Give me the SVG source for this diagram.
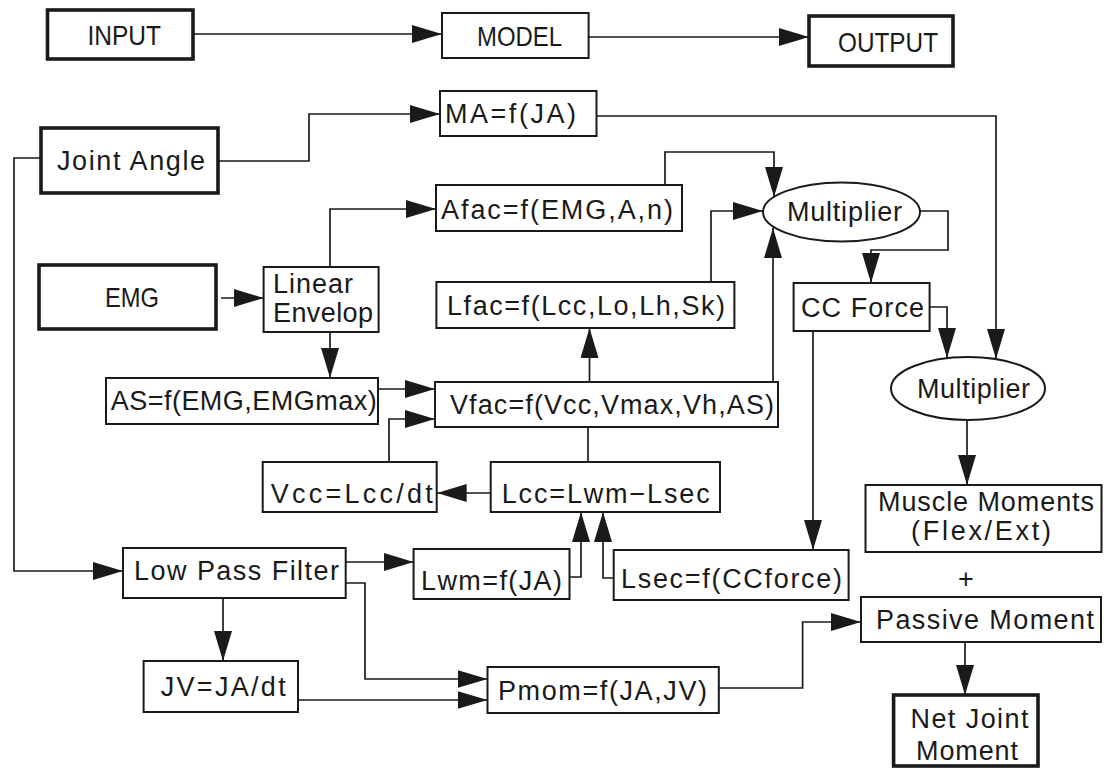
<svg xmlns="http://www.w3.org/2000/svg" width="1104" height="769" viewBox="0 0 1104 769">
<style>
.b{fill:#fff;stroke:#1a1a1a;stroke-width:2}
.k{fill:#fff;stroke:#1a1a1a;stroke-width:3.6}
.c{fill:none;stroke:#1a1a1a;stroke-width:1.7}
.a{marker-end:url(#ah)}
text{font-family:"Liberation Sans",Arial,sans-serif;font-size:27px;fill:#1a1a1a;text-anchor:start}
.u{font-size:28px}
</style>
<defs>
<marker id="ah" viewBox="0 0 30 18" refX="30" refY="9" markerWidth="30" markerHeight="18" markerUnits="userSpaceOnUse" orient="auto">
<path d="M0,0 L30,9 L0,18 z" fill="#1a1a1a"/>
</marker>
</defs>
<rect width="1104" height="769" fill="#fff"/>
<g id="connectors">
<path class="c a" d="M193,34 H442"/>
<path class="c a" d="M588.6,37 H809"/>
<path class="c a" d="M218,161 H309 V114 H440"/>
<path class="c a" d="M41,158 H14 V571 H123"/>
<path class="c a" d="M596.5,116 H996 V359"/>
<path class="c a" d="M929.6,307 H947 V358"/>
<path class="c a" d="M920,211 H948 V250 H871 V283"/>
<path class="c a" d="M665,185 V152 H774 V197"/>
<path class="c a" d="M711,282 V211 H763"/>
<path class="c a" d="M773,382 V228"/>
<path class="c a" d="M221,298 H263.6"/>
<path class="c a" d="M330,267 V209 H436"/>
<path class="c a" d="M330,332 V378"/>
<path class="c a" d="M378,389 H435"/>
<path class="c a" d="M389,462 V419 H435"/>
<path class="c a" d="M589.5,382 V328"/>
<path class="c" d="M588,427 V462"/>
<path class="c a" d="M490.7,493 H436.7"/>
<path class="c a" d="M569.5,577 H581 V512"/>
<path class="c a" d="M613.7,578 H603 V512"/>
<path class="c a" d="M813,331 V550"/>
<path class="c a" d="M967,420 V485"/>
<path class="c a" d="M965,642 V695"/>
<path class="c a" d="M718.8,688 H802.6 V622 H861"/>
<path class="c a" d="M345.7,562 H413.6"/>
<path class="c a" d="M345.7,583 H365 V679 H487.5"/>
<path class="c a" d="M223,598 V661"/>
<path class="c a" d="M298,700 H487.5"/>
</g>
<g id="input"><rect class="k" x="47.5" y="10" width="145.5" height="49"/><text class="u" x="87.5" y="45" textLength="73.5" lengthAdjust="spacingAndGlyphs">INPUT</text></g>
<g id="model"><rect class="b" x="442" y="13" width="146.6" height="45"/><text class="u" x="477" y="46" textLength="85" lengthAdjust="spacingAndGlyphs">MODEL</text></g>
<g id="output"><rect class="k" x="809" y="16" width="144" height="50"/><text class="u" x="838" y="52" textLength="100" lengthAdjust="spacingAndGlyphs">OUTPUT</text></g>
<g id="ma"><rect class="b" x="440" y="91" width="156.5" height="45"/><text x="445" y="123" textLength="131">MA=f(JA)</text></g>
<g id="joint-angle"><rect class="k" x="41" y="128" width="177" height="65"/><text x="57" y="170" textLength="148">Joint Angle</text></g>
<g id="afac"><rect class="b" x="436" y="185" width="246" height="46"/><text x="441" y="219" textLength="232">Afac=f(EMG,A,n)</text></g>
<g id="multiplier1"><ellipse class="b" cx="841.5" cy="212" rx="78.5" ry="29.5"/><text x="787" y="221" textLength="115">Multiplier</text></g>
<g id="emg"><rect class="k" x="39" y="265" width="177" height="64"/><text class="u" x="105" y="307" textLength="54" lengthAdjust="spacingAndGlyphs">EMG</text></g>
<g id="linear-envelop"><rect class="b" x="263.6" y="267" width="115" height="65"/><text x="273" y="293" textLength="80">Linear</text><text x="273" y="322" textLength="100">Envelop</text></g>
<g id="lfac"><rect class="b" x="436.4" y="282" width="298" height="46"/><text x="447" y="315" textLength="278">Lfac=f(Lcc,Lo,Lh,Sk)</text></g>
<g id="cc-force"><rect class="b" x="793.6" y="283" width="136" height="48"/><text x="801" y="317" textLength="123">CC Force</text></g>
<g id="multiplier2"><ellipse class="b" cx="968" cy="388.5" rx="77" ry="31.5"/><text x="917" y="398" textLength="113">Multiplier</text></g>
<g id="as"><rect class="b" x="106" y="378" width="272" height="46"/><text x="110.7" y="410" textLength="266">AS=f(EMG,EMGmax)</text></g>
<g id="vfac"><rect class="b" x="435" y="382" width="343" height="45"/><text x="450" y="414" textLength="324">Vfac=f(Vcc,Vmax,Vh,AS)</text></g>
<g id="vcc"><rect class="b" x="262.7" y="462" width="174" height="50"/><text x="270.7" y="503" textLength="162">Vcc=Lcc/dt</text></g>
<g id="lcc"><rect class="b" x="490.7" y="462" width="229.3" height="50"/><text x="501.7" y="503" textLength="208">Lcc=Lwm−Lsec</text></g>
<g id="muscle-moments"><rect class="b" x="865.5" y="485" width="236" height="67"/><text x="878" y="511" textLength="216">Muscle Moments</text><text x="911" y="540" textLength="140">(Flex/Ext)</text></g>
<g id="low-pass-filter"><rect class="b" x="123" y="548" width="222.7" height="50"/><text x="134" y="580" textLength="205">Low Pass Filter</text></g>
<g id="lwm"><rect class="b" x="413.6" y="549" width="155.9" height="50"/><text x="421" y="590" textLength="141">Lwm=f(JA)</text></g>
<g id="lsec"><rect class="b" x="613.7" y="550" width="234.9" height="50"/><text x="621" y="588" textLength="221">Lsec=f(CCforce)</text></g>
<g id="plus"><text x="966" y="588" style="text-anchor:middle">+</text></g>
<g id="passive-moment"><rect class="b" x="861" y="597" width="240" height="45"/><text x="876" y="629" textLength="218">Passive Moment</text></g>
<g id="jv"><rect class="b" x="143.6" y="661" width="154.4" height="51"/><text x="160.7" y="696" textLength="125">JV=JA/dt</text></g>
<g id="pmom"><rect class="b" x="487.5" y="667" width="231.3" height="46"/><text x="498" y="700" textLength="209">Pmom=f(JA,JV)</text></g>
<g id="net-joint-moment"><rect class="k" x="893.6" y="695" width="144.4" height="71"/><text x="910.5" y="728" textLength="118">Net Joint</text><text x="916" y="760" textLength="102">Moment</text></g>
</svg>
